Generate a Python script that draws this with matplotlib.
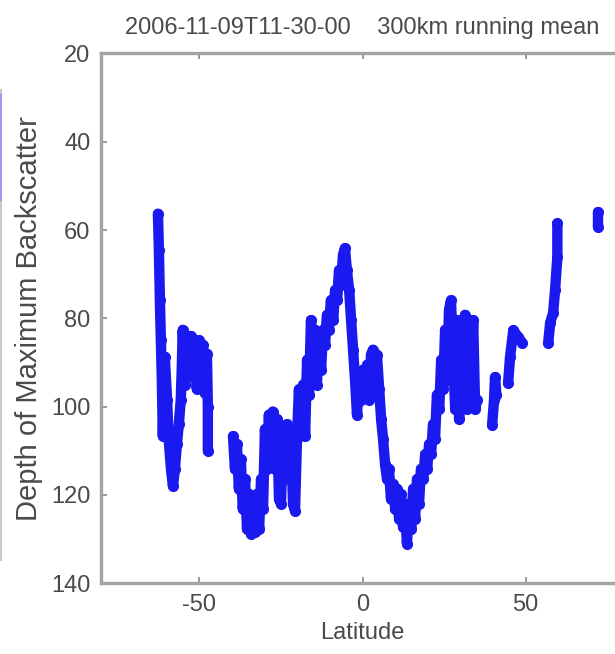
from matplotlib import pyplot as plt
from matplotlib.lines import Line2D
import matplotlib

matplotlib.rcParams['font.family'] = ['Liberation Sans', 'DejaVu Sans']
matplotlib.rcParams['axes.unicode_minus'] = False

title_str = '2006-11-09T11-30-00    300km running mean'
xlabel_str = 'Latitude'
ylabel_str = 'Depth of Maximum Backscatter'
xticks = [-50, 0, 50]
yticks = [20, 40, 60, 80, 100, 120, 140]

# southern ocean stretch
lat_south = [-62.7, -62.4, -62.1, -61.8, -61.5, -61.2, -60.6, -59.9, -59.4, -58.7,
             -58.1, -57.5, -56.9, -56.3, -55.7, -55.4, -55.1, -54.4, -53.8, -53.2,
             -52.6, -52.0, -51.4, -50.8, -50.2, -49.5, -48.9, -48.3, -47.7, -47.4,
             -47.4]
depth_south = [56.3, 64.6, 75.9, 84.9, 93.9, 106.7, 88.7, 98.4, 107.4, 114.1,
               118.0, 114.1, 108.5, 104.0, 98.4, 91.6, 82.6, 95, 84, 93,
               84, 91, 85, 96, 85, 92, 86, 97, 88, 100,
               110]

# long continuous stretch across the equator
lat_mid = [-39.7, -39.1, -38.5, -37.9, -37.3, -36.7, -36.0, -35.4, -34.8, -34.2,
           -33.6, -33.0, -32.4, -31.7, -31.1, -30.5, -29.9, -29.3, -28.7, -28.1,
           -27.5, -26.8, -26.2, -25.6, -25.0, -24.4, -23.8, -23.2, -22.5, -21.9,
           -21.3, -20.7, -20.1, -19.5, -18.9, -18.2, -17.6, -17.0, -16.4, -15.8,
           -15.2, -14.6, -14.0, -13.3, -12.7, -12.1, -11.5, -10.9, -10.3, -9.7,
           -9.0, -8.4, -7.8, -7.2, -6.6, -6.0, -5.4, -4.8, -4.1, -3.5,
           -2.9, -2.3, -1.7, -1.1, -0.5, 0.2, 0.8, 1.4, 2.0, 2.6,
           3.2, 3.8, 4.4, 5.1, 5.7, 6.3, 6.9, 7.5, 8.1, 8.7,
           9.4, 10.0, 10.6, 11.2, 11.8, 12.4, 13.0, 13.6, 14.3, 14.9,
           15.5, 16.1, 16.7, 17.3, 17.9, 18.6, 19.2, 19.8, 20.4, 21.0,
           21.6, 22.2, 22.8, 23.5, 24.1, 24.7, 25.3, 25.9, 26.5, 27.1,
           27.8, 28.4, 29.0, 29.6, 30.2, 30.8, 31.4, 32.0, 32.7, 33.3,
           33.9, 34.5, 35.1]
depth_mid = [106.7, 114.1, 108.5, 118.6, 111.9, 123.2, 116.4, 127.7, 119.8, 128.8,
             120.9, 128.3, 119.8, 127.7, 116.4, 123.2, 105.1, 114.1, 101.8, 111.9,
             101.1, 114.1, 102.9, 120.9, 122.0, 107.4, 116.4, 104.0, 114.1, 107.4,
             122.0, 123.6, 107.4, 96.1, 102.9, 95.0, 106.7, 89.4, 97.3, 80.4,
             87.1, 82.6, 95.0, 84.9, 91.6, 82.6, 86.0, 79.2, 82.6, 75.9,
             80.4, 73.6, 75.9, 69.1, 72.5, 65.7, 64.1, 69.1, 73.6, 80.4,
             87.1, 93.9, 101.8, 93.9, 98.4, 91.6, 97.3, 90.5, 98.4, 88.2,
             87.1, 91.6, 88.2, 96.1, 102.9, 107.4, 113.0, 116.4, 114.1, 120.9,
             117.5, 123.2, 118.6, 125.4, 119.8, 127.2, 122.0, 131.0, 122.0, 127.7,
             118.6, 125.4, 116.4, 122.0, 114.1, 116.4, 110.8, 114.1, 108.5, 110.8,
             104.0, 107.4, 97.3, 100.6, 89.4, 96.1, 82.6, 93.9, 78.1, 75.9,
             89.4, 100.6, 80.4, 102.9, 82.6, 98.4, 79.2, 100.6, 80.4, 93.9,
             80.4, 100.6, 98.4]

# short northern pieces
lat_n1 = [39.7, 40.3, 40.6, 41.0]
depth_n1 = [104.2, 98.5, 93.3, 97.3]
lat_n2 = [44.6, 45.2, 46.2, 47.7, 48.9]
depth_n2 = [94.7, 88.8, 82.7, 84.2, 85.5]
lat_n3 = [56.9, 57.5, 58.4, 59.0, 59.7, 59.7]
depth_n3 = [85.5, 81.0, 78.8, 73.6, 66.1, 58.5]
lat_n4 = [72.2, 72.2]
depth_n4 = [56.0, 59.4]

segments = [(lat_south, depth_south), (lat_mid, depth_mid),
            (lat_n1, depth_n1), (lat_n2, depth_n2),
            (lat_n3, depth_n3), (lat_n4, depth_n4)]

txt_col = '#4a4a4a'
fsize = 17

fig = plt.figure(figsize=(6.15, 6.54), dpi=100)
ax = fig.add_axes([0.165, 0.1081, 0.849, 0.8102])

for lats, depths in segments:
    ax.plot(lats, depths, '-', color='#1a1af0', lw=7.5, marker='o', ms=7,
            solid_joinstyle='round', solid_capstyle='round')

ax.set_xlim(-80, 80)
ax.set_ylim(140, 20)
ax.set_xticks(xticks)
ax.set_yticks(yticks)
ax.tick_params(direction='in', length=4, width=1.2, color='#888888',
               labelsize=fsize, labelcolor=txt_col, top=True, pad=8)
for s in ax.spines.values():
    s.set_color('#a4a4a4')
    s.set_linewidth(2.4)

ax.set_xlabel(xlabel_str, fontsize=fsize, color=txt_col, labelpad=4)
ax.set_ylabel(ylabel_str, fontsize=21, color=txt_col, labelpad=6)
ax.set_title(title_str, fontsize=fsize, color=txt_col, pad=14)

# edge of the neighbouring panel
fig.add_artist(Line2D([0.002, 0.002], [1 - 90/654, 1 - 560/654],
                      color='#c8c8c8', lw=1.5))
fig.add_artist(Line2D([0.002, 0.002], [1 - 95/654, 1 - 200/654],
                      color='#9a9af0', lw=1.5))

fig.savefig('out.png', dpi=100)
